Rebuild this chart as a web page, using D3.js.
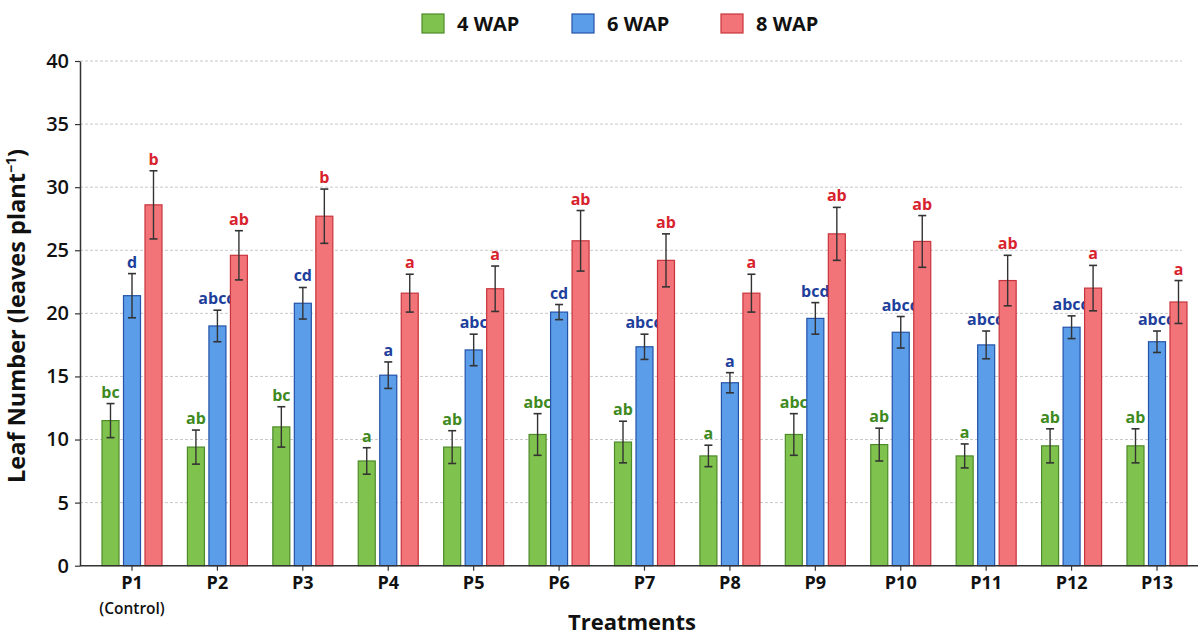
<!DOCTYPE html>
<html>
<head>
<meta charset="utf-8">
<script src="https://cdn.jsdelivr.net/npm/d3@7"></script>
<style>
  html, body { margin: 0; padding: 0; background: #fff; }
  svg { display: block; font-family: "Open Sans", "Noto Sans", sans-serif; }
</style>
</head>
<body>
<svg id="chart" width="1200" height="639"></svg>
<script>
const categories = ["P1","P2","P3","P4","P5","P6","P7","P8","P9","P10","P11","P12","P13"];
const seriesNames = ["4 WAP","6 WAP","8 WAP"];
const wap4 = [11.5, 9.4, 11.0, 8.3, 9.4, 10.4, 9.8, 8.7, 10.4, 9.6, 8.7, 9.5, 9.5];
const wap6 = [21.4, 19.0, 20.8, 15.1, 17.1, 20.1, 17.35, 14.5, 19.6, 18.5, 17.5, 18.9, 17.75];
const wap8 = [28.6, 24.6, 27.7, 21.6, 21.95, 25.75, 24.2, 21.6, 26.3, 25.7, 22.6, 22.0, 20.9];
const err4 = [1.35, 1.35, 1.6, 1.05, 1.3, 1.65, 1.65, 0.85, 1.65, 1.3, 0.95, 1.35, 1.35];
const err6 = [1.75, 1.25, 1.25, 1.05, 1.25, 0.6, 1.0, 0.8, 1.25, 1.25, 1.1, 0.9, 0.85];
const err8 = [2.7, 1.95, 2.15, 1.5, 1.8, 2.4, 2.1, 1.5, 2.1, 2.05, 2.0, 1.8, 1.7];
const sig4 = ["bc","ab","bc","a","ab","abc","ab","a","abc","ab","a","ab","ab"];
const sig6 = ["d","abcd","cd","a","abc","cd","abcd","a","bcd","abcd","abcd","abcd","abcd"];
const sig8 = ["b","ab","b","a","a","ab","ab","a","ab","ab","ab","a","a"];
const yTicks = [0, 5, 10, 15, 20, 25, 30, 35, 40];

const fills = ["#80c24e", "#5b9de8", "#f27478"];
const strokes = ["#4d8a2a", "#2452a8", "#c8343c"];
const labelColors = ["#3f8a1f", "#1e3f9c", "#d8232e"];

const svg = d3.select("#chart");
const axisLeftX = 80, axisRightX = 1198, gridRightX = 1182;
const y = d3.scaleLinear().domain([0, 40]).range([565.7, 61]);
const step = (1157 - 132) / 12;
const x = d3.scaleBand().domain(categories).range([132 - step/2, 1157 + step/2]).paddingInner(0).paddingOuter(0);
const offsets = [-21.5, 0, 21.5];
const barW = 17;

// grid
svg.append("g").selectAll("line").data(yTicks.filter(d => d > 0)).join("line")
  .attr("x1", axisLeftX).attr("x2", gridRightX)
  .attr("y1", d => y(d)).attr("y2", d => y(d))
  .attr("stroke", "#c8c8c8").attr("stroke-width", 1).attr("stroke-dasharray", "3,2");

// series
const series = [
  {vals: wap4, errs: err4, sig: sig4},
  {vals: wap6, errs: err6, sig: sig6},
  {vals: wap8, errs: err8, sig: sig8}
];
series.forEach((s, si) => {
  const data = categories.map((c, i) => ({c, v: s.vals[i], e: s.errs[i], t: s.sig[i]}));
  const cx = d => x(d.c) + x.bandwidth()/2 + offsets[si];
  const g = svg.append("g");
  g.selectAll("rect").data(data).join("rect")
    .attr("x", d => cx(d) - barW/2).attr("width", barW)
    .attr("y", d => y(d.v)).attr("height", d => y(0) - y(d.v))
    .attr("fill", fills[si]).attr("stroke", strokes[si]).attr("stroke-width", 1.2);
  g.selectAll("line.eb").data(data).join("line").attr("class","eb")
    .attr("x1", cx).attr("x2", cx)
    .attr("y1", d => y(d.v + d.e)).attr("y2", d => y(d.v - d.e))
    .attr("stroke", "#333").attr("stroke-width", 1.4);
  g.selectAll("line.cap1").data(data).join("line").attr("class","cap1")
    .attr("x1", d => cx(d) - 4).attr("x2", d => cx(d) + 4)
    .attr("y1", d => y(d.v + d.e)).attr("y2", d => y(d.v + d.e))
    .attr("stroke", "#333").attr("stroke-width", 1.6);
  g.selectAll("line.cap2").data(data).join("line").attr("class","cap2")
    .attr("x1", d => cx(d) - 4).attr("x2", d => cx(d) + 4)
    .attr("y1", d => y(d.v - d.e)).attr("y2", d => y(d.v - d.e))
    .attr("stroke", "#333").attr("stroke-width", 1.6);
  g.selectAll("text").data(data).join("text")
    .attr("x", cx).attr("y", d => y(d.v + d.e) - 6)
    .attr("text-anchor", "middle")
    .attr("font-size", 16).attr("font-weight", 700)
    .attr("fill", labelColors[si]).text(d => d.t);
});

// y axis
const yAxis = d3.axisLeft(y).tickValues(yTicks).tickSize(5).tickPadding(6).tickSizeOuter(0);
const ya = svg.append("g").attr("transform", `translate(${axisLeftX},0)`).call(yAxis);
ya.select(".domain").attr("stroke", "#333").attr("stroke-width", 1.5);
ya.selectAll(".tick line").attr("stroke", "#333").attr("stroke-width", 1.2);
ya.selectAll(".tick text").attr("font-size", 20).attr("font-weight", 600).attr("fill", "#111")
  .attr("font-family", "'Open Sans', sans-serif");

// x axis
const xAxis = d3.axisBottom(x).tickSize(5).tickPadding(6).tickSizeOuter(0);
const xa = svg.append("g").attr("transform", `translate(0,${y(0)})`).call(xAxis);
xa.select(".domain").remove();
xa.append("line").attr("x1", axisLeftX).attr("x2", axisRightX).attr("y1", 0).attr("y2", 0)
  .attr("stroke", "#333").attr("stroke-width", 1.6);
xa.selectAll(".tick line").attr("stroke", "#333").attr("stroke-width", 1.2);
xa.selectAll(".tick text").attr("font-size", 18).attr("font-weight", 700).attr("fill", "#111")
  .attr("font-family", "'Open Sans', sans-serif");
xa.select(".tick text").clone()
  .attr("dy", null).attr("y", 48).text("(Control)").attr("font-size", 15.5).attr("font-weight", 600);

// axis titles
svg.append("text").attr("x", 632).attr("y", 630).attr("text-anchor", "middle")
  .attr("font-size", 22).attr("font-weight", 700).attr("fill", "#111").text("Treatments");
const yt = svg.append("text").attr("transform", "translate(25,316) rotate(-90)")
  .attr("text-anchor", "middle").attr("font-size", 23.5).attr("font-weight", 700).attr("fill", "#111");
yt.append("tspan").text("Leaf Number (leaves plant");
yt.append("tspan").attr("font-size", 14).attr("dy", -9).text("−1");
yt.append("tspan").attr("dy", 9).text(")");

// legend
const legendX = [422, 572, 721];
const lg = svg.append("g");
seriesNames.forEach((n, i) => {
  lg.append("rect").attr("x", legendX[i]).attr("y", 14).attr("width", 22).attr("height", 19)
    .attr("fill", fills[i]).attr("stroke", strokes[i]).attr("stroke-width", 1.2);
  lg.append("text").attr("x", legendX[i] + 35).attr("y", 31)
    .attr("font-size", 20).attr("font-weight", 700).attr("fill", "#111").text(n);
});
</script>
</body>
</html>
